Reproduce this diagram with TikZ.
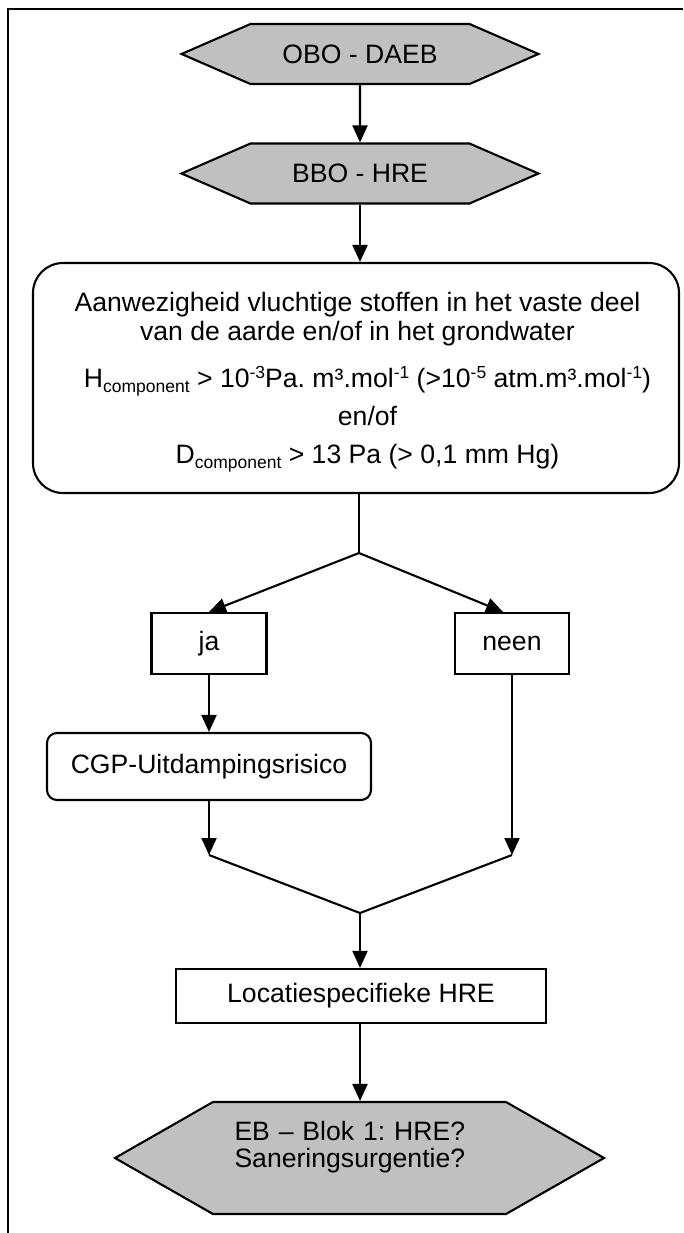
\documentclass[tikz,border=0pt]{standalone}
\usepackage{fontspec}
\setmainfont{Liberation Sans}
\usepackage{tikz}
\usetikzlibrary{calc,arrows.meta,shapes.symbols}
\definecolor{hexgray}{RGB}{192,192,192}
\newcommand{\lowtxt}[1]{\raisebox{-5pt}{\fontsize{17.5}{17.5}\selectfont #1}}
\newcommand{\hightxt}[1]{\raisebox{9pt}{\fontsize{17.5}{17.5}\selectfont #1}}
\frenchspacing

\begin{document}
\begin{tikzpicture}[x=1pt,y=-1pt,line width=2.1pt]
  \tikzstyle{every node} = [font=\fontsize{26.6}{29}\selectfont]
  \tikzstyle{hexa} = [draw,fill=hexgray,shape=signal,signal to=east and west,minimum width=357pt,minimum height=60pt,signal pointer angle=47]
  \tikzstyle{block} = [draw,fill=white,shape=rectangle,minimum height=61pt]
  \tikzstyle{rblock} = [block,rounded corners=10pt]
  \tikzstyle{flow} = [-{Triangle[length=17pt,width=15pt]}]
  \useasboundingbox (0,0) rectangle (683,1233);
  % Frame.
  \draw[line width=2.2pt] (8,1233) -- (8,9) -- (683,9);
  % Top.
  \node[hexa] (obo) at (360,54) {OBO - DAEB};
  \node[hexa] (bbo) at (360,173.5) {BBO - HRE};
  \draw[flow] (obo) -- (bbo);
  % Condition box.
  \node[block,rounded corners=30pt,minimum width=646pt,minimum height=230pt] (cond) at (356,378) {};
  \node[anchor=north,align=center,inner sep=0pt] (condtext) at (357.5,291) {Aanwezigheid vluchtige stoffen in het vaste deel\\
    van de aarde en/of in het grondwater\\[18pt]
    \hspace*{20pt}H\lowtxt{component} > 10\hightxt{-3}Pa. m³.mol\hightxt{-1} (>10\hightxt{-5} atm.m³.mol\hightxt{-1})\\[9pt]
    \hspace*{20pt}en/of\\[9pt]
    \hspace*{20pt}D\lowtxt{component} > 13 Pa (> 0,1 mm Hg)};
  \draw[flow] (bbo.south) -- (bbo.south |- cond.north);
  % Branches.
  \coordinate (split) at (359,553);
  \node[block,minimum width=115pt] (ja) at (209,643.5) {ja};
  \node[block,minimum width=114pt] (neen) at (512,643.5) {neen};
  \draw (cond.south -| split) -- (split);
  \draw[flow] (split) -- (ja.north);
  \draw[flow] (split) -- ($(neen.north)+(-9,0)$);
  \node[rblock,minimum width=324pt,minimum height=67pt] (cgp) at (209,766.5) {CGP-Uitdampingsrisico};
  \draw[flow] (ja) -- (cgp);
  % Merge.
  \coordinate (mleft) at (209,855);
  \coordinate (merge) at (360,913);
  \coordinate (mright) at (neen.south |- mleft);
  \draw[flow] (cgp.south) -- (mleft);
  \draw[flow] (neen.south) -- (mright);
  \draw (mleft) -- (merge) -- (mright);
  \node[block,minimum width=370pt,minimum height=54pt] (loc) at (361,996) {Locatiespecifieke HRE};
  \draw[flow] (merge) -- (loc.north -| merge);
  % End.
  \node[hexa,minimum width=489pt,minimum height=112pt,signal pointer angle=59.5,text width=250pt,align=left,font=\fontsize{26.6}{27}\selectfont] (eb) at (359.5,1158) {EB – Blok 1: HRE?\\Saneringsurgentie?\\ \mbox{}};
  \draw[flow] (loc.south -| merge) -- (eb.north -| merge);
\end{tikzpicture}
\end{document}
